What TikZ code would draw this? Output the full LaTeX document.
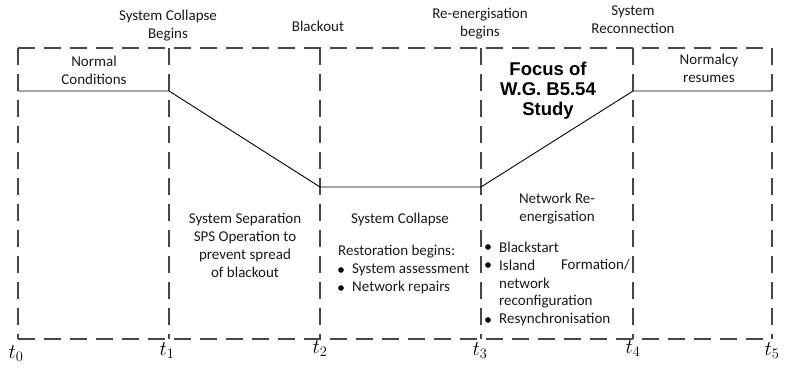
\documentclass[tikz,border=0pt]{standalone}
\usepackage{fontspec}
\setmainfont{Carlito}
\newfontfamily\heavyfont{Liberation Sans}
\usetikzlibrary{positioning}
\tikzset{
  frame/.style = {line width=1.2pt, black!72, dash pattern=on 17pt off 9pt},
  level/.style = {line width=0.9pt, black},
  lbl/.style   = {font=\fontsize{15}{18}\selectfont, align=center, inner sep=0pt, text=black!90},
  item/.style  = {font=\fontsize{15}{18}\selectfont, anchor=west, inner sep=0pt, text=black!90},
  dot/.style   = {circle, fill=black, inner sep=2pt},
  tlbl/.style  = {font=\fontsize{20}{20}\selectfont, inner sep=0pt},
  focus/.style = {font=\heavyfont\bfseries\fontsize{18.5}{20}\selectfont, align=center, inner sep=0pt},
}
\begin{document}
\begin{tikzpicture}[x=1pt,y=-1pt]
\useasboundingbox (0,0) rectangle (796,382);
% time instants
\foreach \n/\x in {0/18, 1/169, 2/320, 3/481, 4/633, 5/772} {
  \coordinate (top\n) at (\x,48);
  \coordinate (bot\n) at (\x,339);
  \draw[frame] (top\n) -- (bot\n);
}
\draw[frame] (top0) -- (top5);
\draw[frame] (bot0) -- (bot5);
% system state
\coordinate (s0) at (18,91);
\coordinate (s1) at (169,91);
\coordinate (s2) at (320,187);
\coordinate (s3) at (481,187);
\coordinate (s4) at (633,91);
\coordinate (s5) at (772,91);
\draw[level] (s0) -- (s1) -- (s2) -- (s3) -- (s4) -- (s5);
% events
\node[lbl] (collbeg) at (168,26) {System Collapse\\Begins};
\node[lbl] (blackout) at (318,26) {Blackout};
\node[lbl] (reenbeg) at (480,24) {Re-energisation\\begins};
\node[lbl] (reconn) at (633,20) {System\\Reconnection};
% phases
\node[lbl] (normal) at (94,70) {Normal\\Conditions};
\node[lbl] (normalcy) at (709,68) {Normalcy\\resumes};
\node[focus] (focus) at (548,91) {Focus of\\W.G. B5.54\\Study};
\node[lbl] (separation) at (245,245) {System Separation\\SPS Operation to\\prevent spread\\of blackout};
\node[lbl] (collapse) at (400,220) {System Collapse};
\node[item] (restore) at (338,252) {Restoration begins:};
\node[item] (assess) at (352,270) {System assessment};
\node[item] (repairs) at (352,288) {Network repairs};
\node[dot] at (341,270) {};
\node[dot] at (341,288) {};
\node[lbl] (reen) at (557,209) {Network Re-\\energisation};
\node[item] (bstart) at (499,247) {Blackstart};
\node[item] (island) at (499,265) {Island};
\node[lbl, anchor=east] (formation) at (630,265) {Formation/};
\node[item] (network) at (499,283) {network};
\node[item] (reconf) at (499,302) {reconfiguration};
\node[item] (resync) at (499,320) {Resynchronisation};
\foreach \y in {247,265,320} {\node[dot] at (488,\y) {};}
% instants
\node[tlbl] (t0) at (16,354) {$t_0$};
\node[tlbl] (t1) at (167,351) {$t_1$};
\node[tlbl] (t2) at (320,349) {$t_2$};
\node[tlbl] (t3) at (480,351) {$t_3$};
\node[tlbl] (t4) at (633,349) {$t_4$};
\node[tlbl] (t5) at (772,351) {$t_5$};
\end{tikzpicture}
\end{document}
